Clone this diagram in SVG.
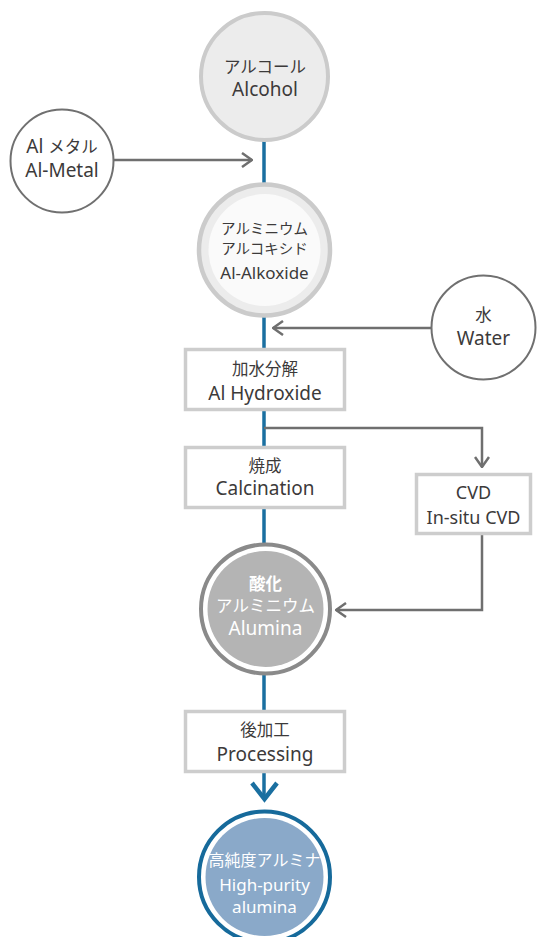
<svg xmlns="http://www.w3.org/2000/svg" width="544" height="937" viewBox="0 0 544 937">
<style>
text{font-family:"Noto Sans","Noto Sans CJK JP",sans-serif;fill:#3c3a3a;text-anchor:middle}
.cj{font-size:16.5px}
.lt{font-size:19px}
.w{fill:#ffffff}
.gline{fill:none;stroke:#6f6f6f;stroke-width:2.5}
.rect{fill:#ffffff;stroke:#cdcdcd;stroke-width:3.5}
</style>
<defs>
<marker id="ah" viewBox="0 0 12 16" refX="11" refY="8" markerWidth="12" markerHeight="16" markerUnits="userSpaceOnUse" orient="auto">
<path d="M1,1 L11,8 L1,15" fill="none" stroke="#6f6f6f" stroke-width="2.5"/>
</marker>
</defs>
<g id="connectors">
<line x1="264" y1="140" x2="264" y2="798" stroke="#1a6fa0" stroke-width="3.5"/>
<path d="M252,783 L264.5,799 L277,783" fill="none" stroke="#1a6fa0" stroke-width="4.5"/>
<line class="gline" x1="114" y1="160" x2="252" y2="160" marker-end="url(#ah)"/>
<line class="gline" x1="431" y1="328" x2="273" y2="328" marker-end="url(#ah)"/>
<path class="gline" d="M264,428 H482 V467" marker-end="url(#ah)"/>
<path class="gline" d="M482,535 V610 H336" marker-end="url(#ah)"/>
</g>
<g id="alcohol">
<circle cx="264.5" cy="76.5" r="63.5" fill="#ececec" stroke="#cbcbcb" stroke-width="4"/>
<text class="cj" x="265" y="73">アルコール</text>
<text class="lt" x="265" y="96">Alcohol</text>
</g>
<g id="almetal">
<circle cx="62" cy="161" r="51.5" fill="#ffffff" stroke="#707070" stroke-width="2"/>
<text class="lt" x="62" y="153">Al <tspan font-size="16.5">メタル</tspan></text>
<text class="lt" x="62" y="177">Al-Metal</text>
</g>
<g id="alkoxide">
<circle cx="264.5" cy="250" r="65.5" fill="#ececec" stroke="#cbcbcb" stroke-width="4.5"/>
<circle cx="264.5" cy="250" r="56" fill="#fafafa"/>
<text x="264.5" y="234" font-size="14.5">アルミニウム</text>
<text x="264.5" y="254" font-size="14.5">アルコキシド</text>
<text x="264.5" y="279" font-size="17">Al-Alkoxide</text>
</g>
<g id="water">
<circle cx="483.5" cy="327.5" r="52" fill="#ffffff" stroke="#707070" stroke-width="2"/>
<text class="cj" x="483.5" y="321">水</text>
<text class="lt" x="483.5" y="345">Water</text>
</g>
<g id="hydroxide">
<rect class="rect" x="185.5" y="349.5" width="159" height="60"/>
<text class="cj" x="265" y="375">加水分解</text>
<text class="lt" x="265" y="400">Al Hydroxide</text>
</g>
<g id="calcination">
<rect class="rect" x="185.5" y="447.5" width="159" height="60"/>
<text class="cj" x="265" y="472">焼成</text>
<text class="lt" x="265" y="495">Calcination</text>
</g>
<g id="cvd">
<rect class="rect" x="416.5" y="474.5" width="114" height="59"/>
<text x="473.5" y="499" font-size="18">CVD</text>
<text x="473.5" y="524" font-size="18">In-situ CVD</text>
</g>
<g id="alumina">
<circle cx="265.5" cy="609" r="64.5" fill="#ffffff" stroke="#8a8a8a" stroke-width="4"/>
<circle cx="265.5" cy="609" r="58" fill="#b4b4b4"/>
<text class="cj w" x="265.5" y="590" font-weight="bold">酸化</text>
<text class="cj w" x="265.5" y="612">アルミニウム</text>
<text class="lt w" x="265.5" y="635">Alumina</text>
</g>
<g id="processing">
<rect class="rect" x="185.5" y="711.5" width="159" height="60"/>
<text class="cj" x="265" y="736">後加工</text>
<text class="lt" x="265" y="761">Processing</text>
</g>
<g id="highpurity">
<circle cx="264.5" cy="877" r="65.5" fill="#ffffff" stroke="#166a9b" stroke-width="4"/>
<circle cx="264.5" cy="877" r="59" fill="#8aa9c9"/>
<text class="w" x="264.5" y="866" font-size="16">高純度アルミナ</text>
<text class="w" x="264.5" y="891" font-size="17">High-purity</text>
<text class="w" x="264.5" y="913" font-size="17">alumina</text>
</g>
</svg>
